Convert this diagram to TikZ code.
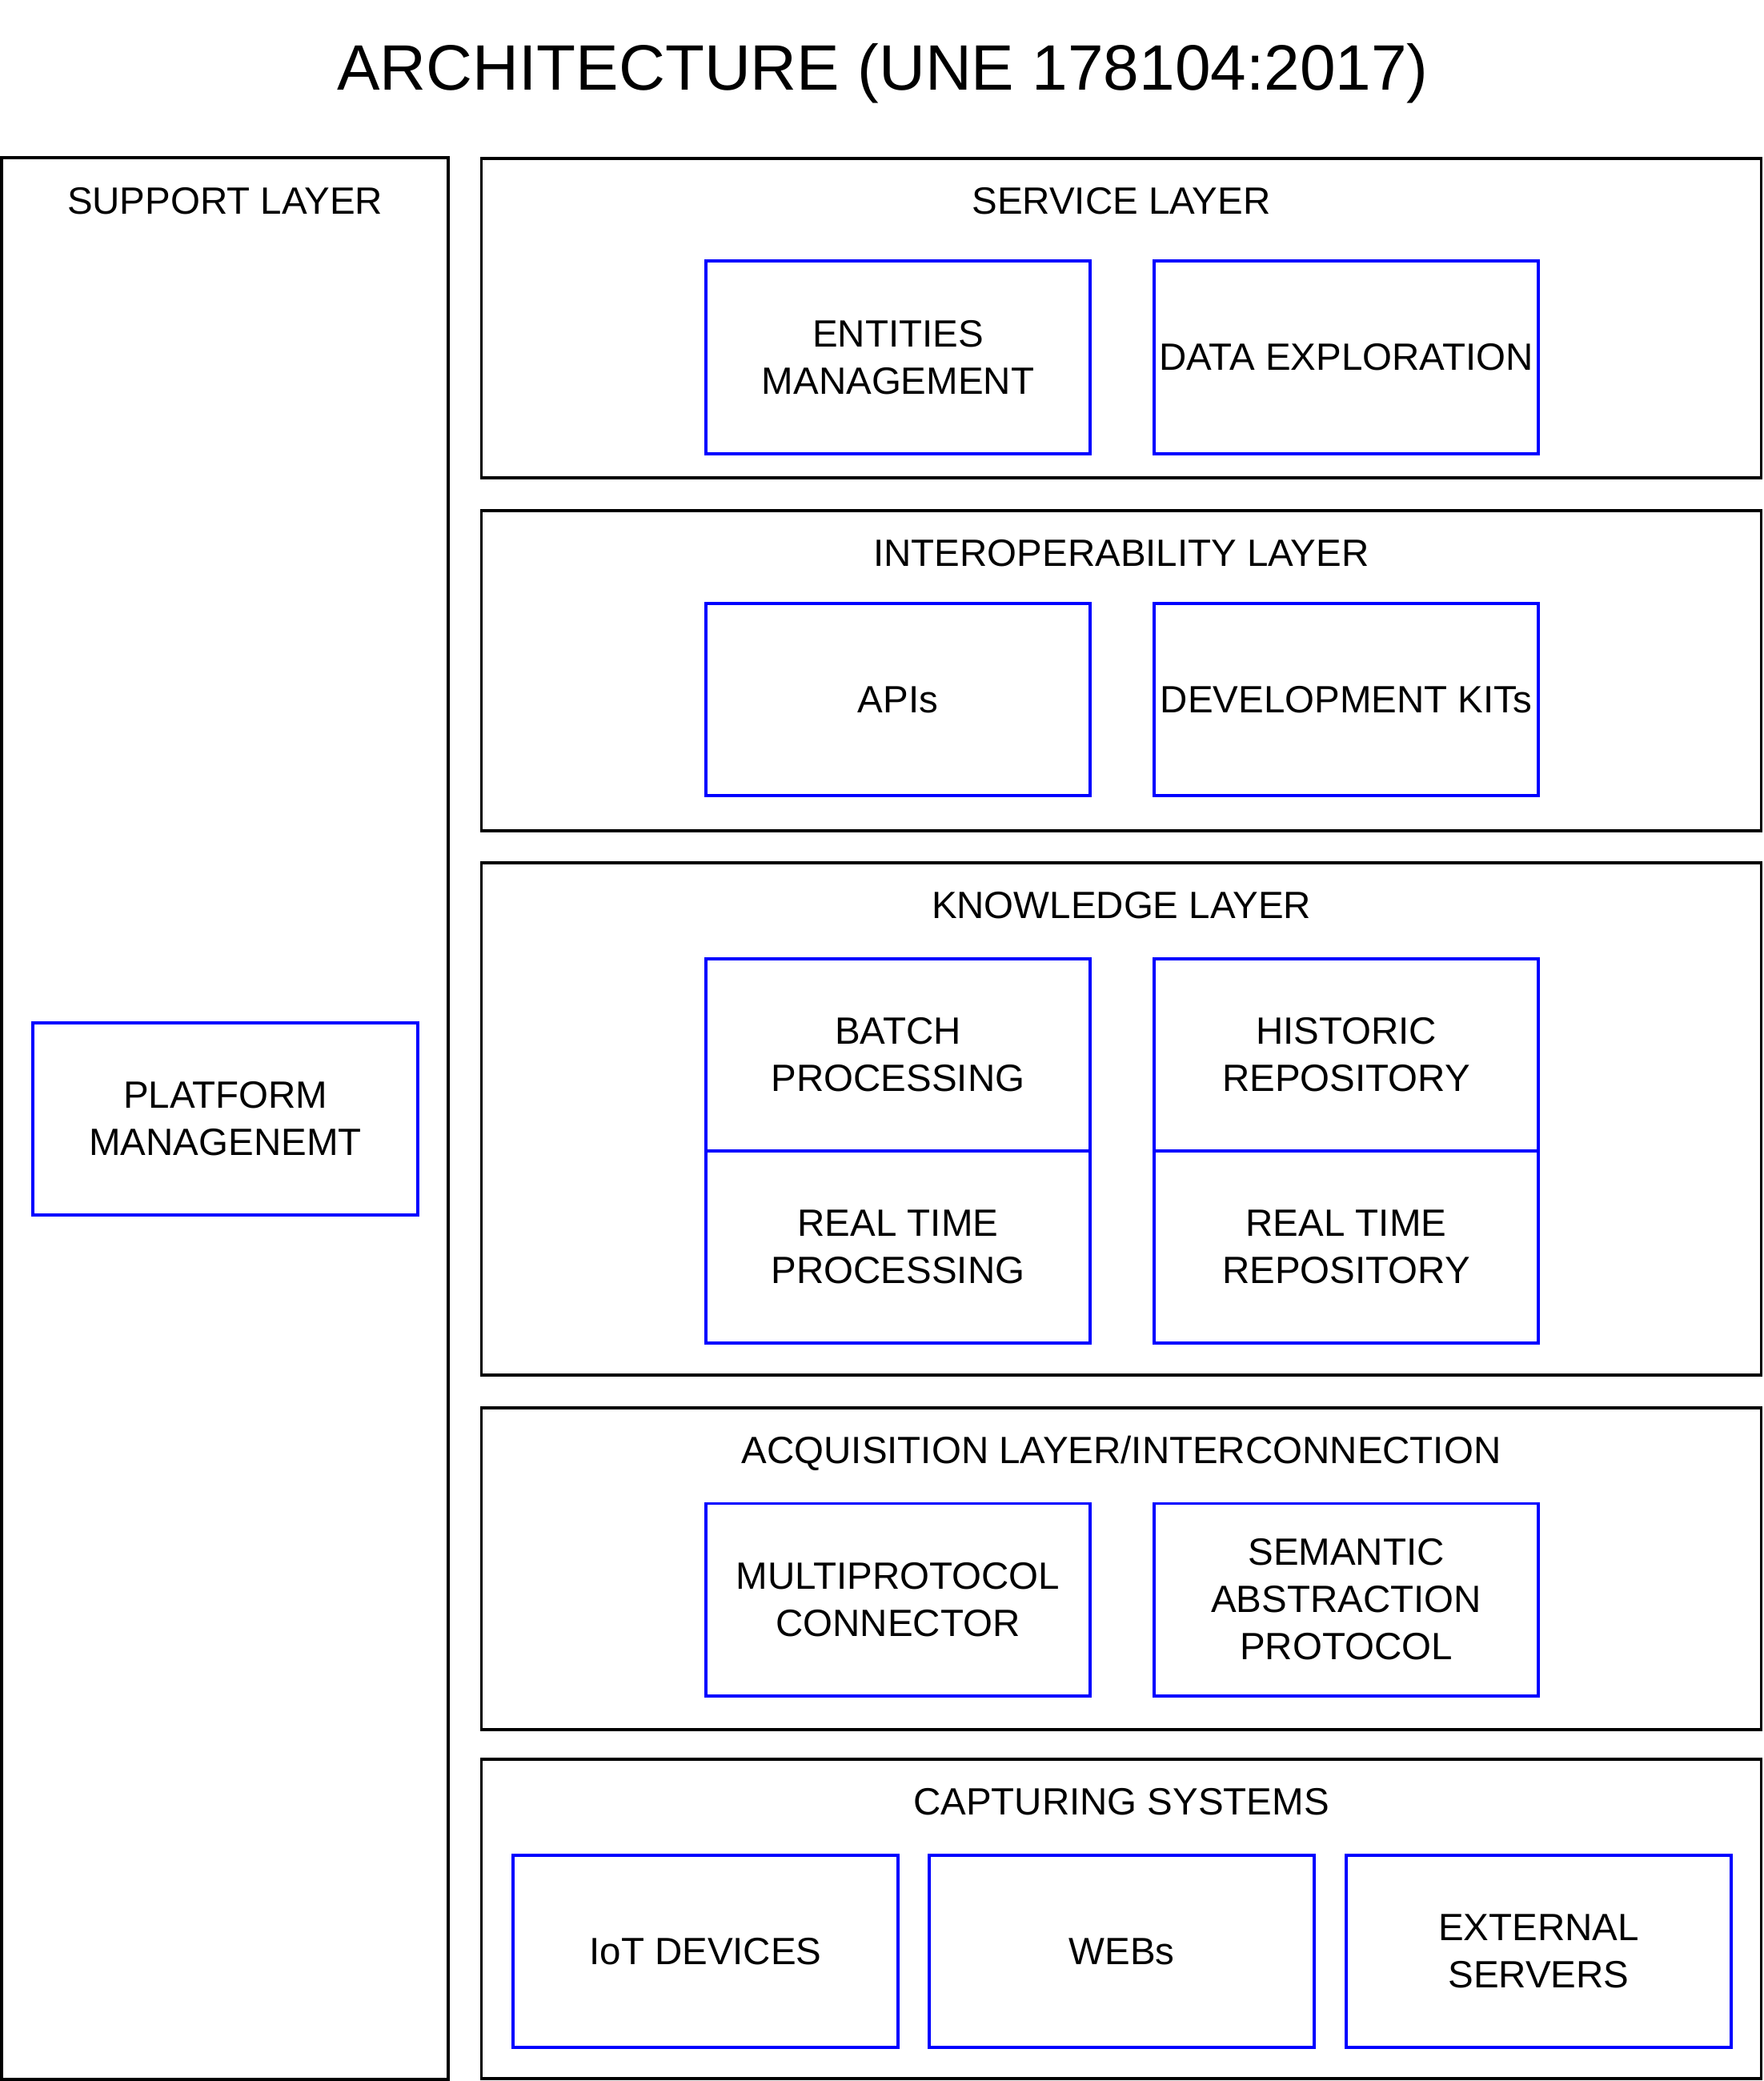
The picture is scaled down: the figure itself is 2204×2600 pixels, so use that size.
\documentclass[tikz,border=0pt]{standalone}
\usepackage{fontspec}
\setmainfont{Liberation Sans}
\usepackage{tikz}
\definecolor{partblue}{RGB}{0,0,255}

\begin{document}
\begin{tikzpicture}[x=0.01cm,y=-0.01cm,
  layer/.style={draw=black,line width=1.1pt,inner sep=0pt,outer sep=0pt,minimum width=15.98cm},
  part/.style={draw=partblue,line width=1.1pt,inner sep=0pt,outer sep=0pt,align=center,
    minimum width=4.8cm,minimum height=2.4cm,font=\fontsize{13.5}{16.8}\selectfont},
  ttl/.style={anchor=base,inner sep=0pt,font=\fontsize{13.5}{16.8}\selectfont}]
\useasboundingbox (0,0) rectangle (2204,2600);

% title
\node[anchor=base,inner sep=0pt,font=\fontsize{22.8}{28}\selectfont] (title) at (1103,113) {ARCHITECTURE (UNE 178104:2017)};

% support layer
\node[layer,minimum width=5.58cm,minimum height=23.99cm] (sup) at (281,1397.5) {};
\node[ttl] (suptitle) at ([yshift=-0.70cm]sup.north) {SUPPORT LAYER};
\node[part] (plat) at (281.5,1398) {PLATFORM\\MANAGENEMT};

% service layer
\node[layer,minimum height=3.99cm] (svc) at (1401,397.5) {};
\node[ttl] (svctitle) at ([yshift=-0.70cm]svc.north) {SERVICE LAYER};
\node[part] (ent) at (1122,446.5) {ENTITIES\\MANAGEMENT};
\node[part] (dexp) at (1682,446.5) {DATA EXPLORATION};

% interoperability layer
\node[layer,minimum height=4cm] (intr) at (1401,838) {};
\node[ttl] (intrtitle) at ([yshift=-0.70cm]intr.north) {INTEROPERABILITY LAYER};
\node[part] (apis) at (1122,874) {APIs};
\node[part] (devkit) at (1682,874) {DEVELOPMENT KITs};

% knowledge layer
\node[layer,minimum height=6.4cm] (know) at (1401,1398) {};
\node[ttl] (knowtitle) at ([yshift=-0.70cm]know.north) {KNOWLEDGE LAYER};
\node[part] (batch) at (1122,1318) {BATCH\\PROCESSING};
\node[part] (rtproc) at (1122,1558) {REAL TIME\\PROCESSING};
\node[part] (hist) at (1682,1318) {HISTORIC\\REPOSITORY};
\node[part] (rtrepo) at (1682,1558) {REAL TIME\\REPOSITORY};

% acquisition layer
\node[layer,minimum height=4.02cm] (acq) at (1401,1960) {};
\node[ttl] (acqtitle) at ([yshift=-0.70cm]acq.north) {ACQUISITION LAYER/INTERCONNECTION};
\node[part] (multi) at (1122,1998.5) {MULTIPROTOCOL\\CONNECTOR};
\node[part] (sem) at (1682,1998.5) {SEMANTIC\\ABSTRACTION\\PROTOCOL};

% capturing systems
\node[layer,minimum height=3.99cm] (cap) at (1401,2397.5) {};
\node[ttl] (captitle) at ([yshift=-0.70cm]cap.north) {CAPTURING SYSTEMS};
\node[part] (iot) at (881.5,2438) {IoT DEVICES};
\node[part] (webs) at (1401.5,2438) {WEBs};
\node[part] (ext) at (1922.5,2438) {EXTERNAL\\SERVERS};
\end{tikzpicture}
\end{document}
